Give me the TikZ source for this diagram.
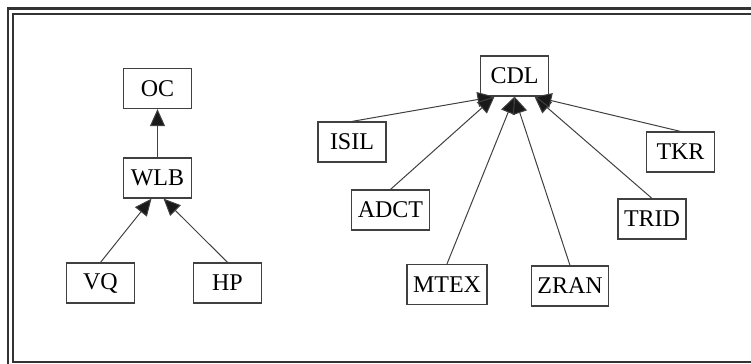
\documentclass[tikz,border=0pt]{standalone}
\usepackage{fontspec}
\setmainfont{Liberation Serif}
\usetikzlibrary{arrows.meta}

\begin{document}
\begin{tikzpicture}[
            x=0.5pt, y=-0.5pt,
            cls/.style={rectangle, draw=black!75, line width=0.6pt, minimum width=34pt, minimum height=20pt, inner xsep=3pt, align=center, font=\fontsize{12}{14}\selectfont},
            inherit/.style={-{Triangle[length=8.5pt, width=7.5pt, fill=black!90]}, draw=black!75, line width=0.5pt},
            frame/.style={draw=black!80, line width=1.1pt}
        ]

        \useasboundingbox (0,0) rectangle (751,364);
        \clip (0,0) rectangle (751,364);

        % Double frame, cut off at the right and bottom
        \draw[frame] (8,8.5) rectangle (770,380);
        \draw[frame] (13.3,13.8) rectangle (760,362);

        % Left hierarchy
        \node[cls] (oc) at (157.5,88.5) {OC};
        \node[cls] (wlb) at (157.5,178) {WLB};
        \node[cls] (vq) at (100.5,283) {VQ};
        \node[cls] (hp) at (227.5,283) {HP};
        \draw[inherit] (wlb) -- (oc);
        \draw[inherit] (vq.north) -- ([xshift=-3pt]wlb.south);
        \draw[inherit] (hp.north) -- ([xshift=3pt]wlb.south);

        % Right hierarchy
        \node[cls] (cdl) at (514.5,76) {CDL};
        \node[cls] (isil) at (352,142) {ISIL};
        \node[cls] (adct) at (390.5,210) {ADCT};
        \node[cls] (mtex) at (447,284.5) {MTEX};
        \node[cls] (zran) at (570,286) {ZRAN};
        \node[cls] (trid) at (652,219) {TRID};
        \node[cls] (tkr) at (680.5,152) {TKR};
        \draw[inherit] (isil.north) -- ([xshift=-10pt]cdl.south);
        \draw[inherit] (adct.north) -- ([xshift=-10pt]cdl.south);
        \draw[inherit] (mtex.north) -- (cdl.south);
        \draw[inherit] (zran.north) -- (cdl.south);
        \draw[inherit] (trid.north) -- ([xshift=10pt]cdl.south);
        \draw[inherit] (tkr.north) -- ([xshift=10pt]cdl.south);

    \end{tikzpicture}
\end{document}
